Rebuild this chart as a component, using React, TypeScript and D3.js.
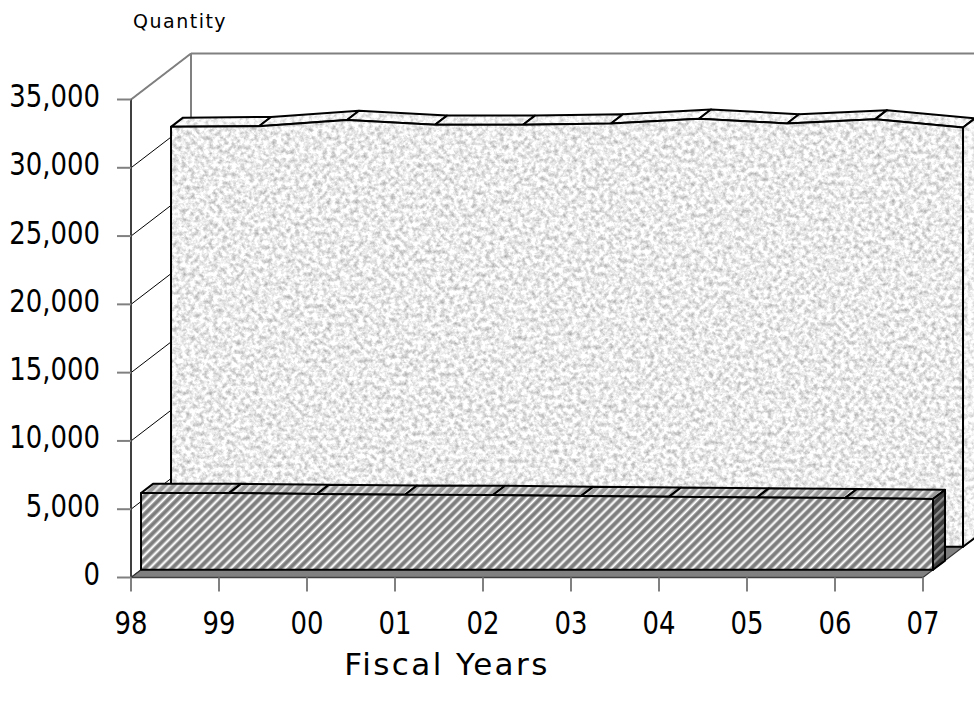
import React from "react";
import * as d3 from "d3";

const years = ["98", "99", "00", "01", "02", "03", "04", "05", "06", "07"];
const backSeries = [30750, 30800, 31250, 30900, 30900, 31000, 31350, 31000, 31300, 30700];
const frontSeries = [5620, 5620, 5550, 5500, 5480, 5400, 5350, 5300, 5250, 5180];
const yTicks = [0, 5000, 10000, 15000, 20000, 25000, 30000, 35000];

const FONT = "'DejaVu Sans Condensed', 'DejaVu Sans', sans-serif";
const FONT_WIDE = "'DejaVu Sans', sans-serif";

type Pt = [number, number];

export default function App() {
  const W = 974, H = 706;
  const x = d3.scaleLinear().domain([0, years.length - 1]).range([131, 923]);
  const y = d3.scaleLinear().domain([0, 35000]).range([577.5, 99.5]);
  const DX = 60, DY = 46;
  const P = (i: number, v: number, z: number): Pt => [x(i) + z * DX, y(v) - z * DY];
  const poly = (pts: Pt[]) => "M" + pts.map((p) => p[0].toFixed(2) + "," + p[1].toFixed(2)).join("L") + "Z";
  const fmt = d3.format(",");
  const n = years.length;

  const slab = (
    vals: number[], zf: number, zb: number,
    front: { fill: string; filter?: string },
    top: { fill: string; filter?: string },
    side: { fill: string; filter?: string },
    key: string
  ) => {
    const tops: Pt[][] = [];
    for (let i = 0; i < vals.length - 1; i++) {
      tops.push([P(i, vals[i], zf), P(i + 1, vals[i + 1], zf), P(i + 1, vals[i + 1], zb), P(i, vals[i], zb)]);
    }
    const frontPts: Pt[] = [P(0, 0, zf), ...vals.map((v, i) => P(i, v, zf)), P(vals.length - 1, 0, zf)];
    const last = vals.length - 1;
    const sidePts: Pt[] = [P(last, 0, zf), P(last, vals[last], zf), P(last, vals[last], zb), P(last, 0, zb)];
    return (
      <g key={key}>
        {tops.map((q, i) => (
          <g key={"t" + i}>
            <path d={poly(q)} fill={top.fill} filter={top.filter} />
            <path d={poly(q)} fill="none" stroke="#000" strokeWidth={2} strokeLinejoin="round" />
          </g>
        ))}
        <path d={poly(frontPts)} fill={front.fill} filter={front.filter} />
        <path d={poly(frontPts)} fill="none" stroke="#000" strokeWidth={2} strokeLinejoin="round" />
        <path d={poly(sidePts)} fill={side.fill} filter={side.filter} />
        <path d={poly(sidePts)} fill="none" stroke="#000" strokeWidth={2} strokeLinejoin="round" />
      </g>
    );
  };

  const floorPts: Pt[] = [P(0, 0, 0), P(n - 1, 0, 0), P(n - 1, 0, 1), P(0, 0, 1)];

  return (
    <svg width={W} height={H} style={{ position: "absolute", left: 0, top: 0, background: "#fff" }}>
      <defs>
        <filter id="granite" colorInterpolationFilters="sRGB">
          <feTurbulence type="fractalNoise" baseFrequency="0.22" numOctaves={4} seed={7} result="n" />
          <feColorMatrix in="n" type="matrix"
            values="0.6 0 0 0 0.62  0.6 0 0 0 0.62  0.6 0 0 0 0.62  0 0 0 0 1" result="g" />
          <feComposite in="g" in2="SourceGraphic" operator="in" />
        </filter>
        <filter id="graniteLight" colorInterpolationFilters="sRGB">
          <feTurbulence type="fractalNoise" baseFrequency="0.22" numOctaves={4} seed={11} result="n" />
          <feColorMatrix in="n" type="matrix"
            values="0.5 0 0 0 0.7  0.5 0 0 0 0.7  0.5 0 0 0 0.7  0 0 0 0 1" result="g" />
          <feComposite in="g" in2="SourceGraphic" operator="in" />
        </filter>
        <pattern id="hatchFront" patternUnits="userSpaceOnUse" width={6.4} height={6.4} patternTransform="rotate(45)">
          <rect width={6.4} height={6.4} fill="#7d7d7d" />
          <rect x={0.3} width={0.8} height={6.4} fill="#bcbcbc" />
          <rect x={1.1} width={1.9} height={6.4} fill="#ffffff" />
          <rect x={3.0} width={0.7} height={6.4} fill="#b0b0b0" />
        </pattern>
        <pattern id="hatchTop" patternUnits="userSpaceOnUse" width={6.4} height={6.4} patternTransform="rotate(45)">
          <rect width={6.4} height={6.4} fill="#9a9a9a" />
          <rect x={1} width={2.2} height={6.4} fill="#e6e6e6" />
        </pattern>
        <pattern id="hatchSide" patternUnits="userSpaceOnUse" width={6.4} height={6.4} patternTransform="rotate(45)">
          <rect width={6.4} height={6.4} fill="#3c3c3c" />
          <rect x={1} width={2.2} height={6.4} fill="#8e8e8e" />
        </pattern>
      </defs>

      {/* back wall gridlines */}
      {yTicks.map((t) => {
        const a = P(0, t, 1), b = P(n - 1, t, 1);
        return <line key={"bg" + t} x1={a[0]} y1={a[1]} x2={b[0]} y2={b[1]} stroke="#000" strokeWidth={1} />;
      })}
      {/* side wall gridlines */}
      {yTicks.map((t) => {
        const a = P(0, t, 0), b = P(0, t, 1);
        return <line key={"sg" + t} x1={a[0]} y1={a[1]} x2={b[0]} y2={b[1]} stroke="#000" strokeWidth={1} />;
      })}
      {/* wall edges */}
      {(() => {
        const a = P(0, 35000, 0), b = P(0, 35000, 1), c = P(n - 1, 35000, 1), d = P(0, 0, 1);
        return (
          <g stroke="#808080" strokeWidth={2} fill="none">
            <line x1={a[0]} y1={a[1]} x2={b[0]} y2={b[1]} />
            <line x1={b[0]} y1={b[1]} x2={c[0]} y2={c[1]} />
            <line x1={b[0]} y1={b[1]} x2={d[0]} y2={d[1]} />
          </g>
        );
      })()}

      {/* floor */}
      <path d={poly(floorPts)} fill="#808080" stroke="#333" strokeWidth={1.2} />

      {slab(backSeries, 0.667, 0.867,
        { fill: "#fff", filter: "url(#granite)" },
        { fill: "#fff", filter: "url(#graniteLight)" },
        { fill: "#fff", filter: "url(#graniteLight)" }, "back")}

      {slab(frontSeries, 0.167, 0.367,
        { fill: "url(#hatchFront)" },
        { fill: "url(#hatchTop)" },
        { fill: "url(#hatchSide)" }, "front")}

      {/* vertical axis */}
      <line x1={x(0)} y1={y(35000)} x2={x(0)} y2={y(0)} stroke="#404040" strokeWidth={2} />
      {yTicks.map((t) => (
        <g key={"yt" + t}>
          <line x1={x(0) - 14} y1={y(t)} x2={x(0)} y2={y(t)} stroke="#808080" strokeWidth={2} />
          <text transform={`translate(100,${y(t) + 7.5}) scale(0.9,1)`} textAnchor="end"
            fontFamily={FONT} fontSize={32} fill="#000">{fmt(t)}</text>
        </g>
      ))}

      {/* horizontal axis */}
      <line x1={x(0)} y1={y(0)} x2={x(n - 1)} y2={y(0)} stroke="#404040" strokeWidth={1.5} />
      {years.map((yr, i) => (
        <g key={"xt" + yr}>
          <line x1={x(i)} y1={y(0)} x2={x(i)} y2={y(0) + 14} stroke="#808080" strokeWidth={2} />
          <text transform={`translate(${x(i)},634) scale(0.9,1)`} textAnchor="middle"
            fontFamily={FONT} fontSize={32} fill="#000">{yr}</text>
        </g>
      ))}

      <text x={447} y={675} textAnchor="middle" fontFamily={FONT_WIDE} fontSize={31} letterSpacing={2.4} fill="#000">Fiscal Years</text>
      <text x={133} y={28} fontFamily={FONT_WIDE} fontSize={19} letterSpacing={1.5} fill="#000">Quantity</text>
    </svg>
  );
}
